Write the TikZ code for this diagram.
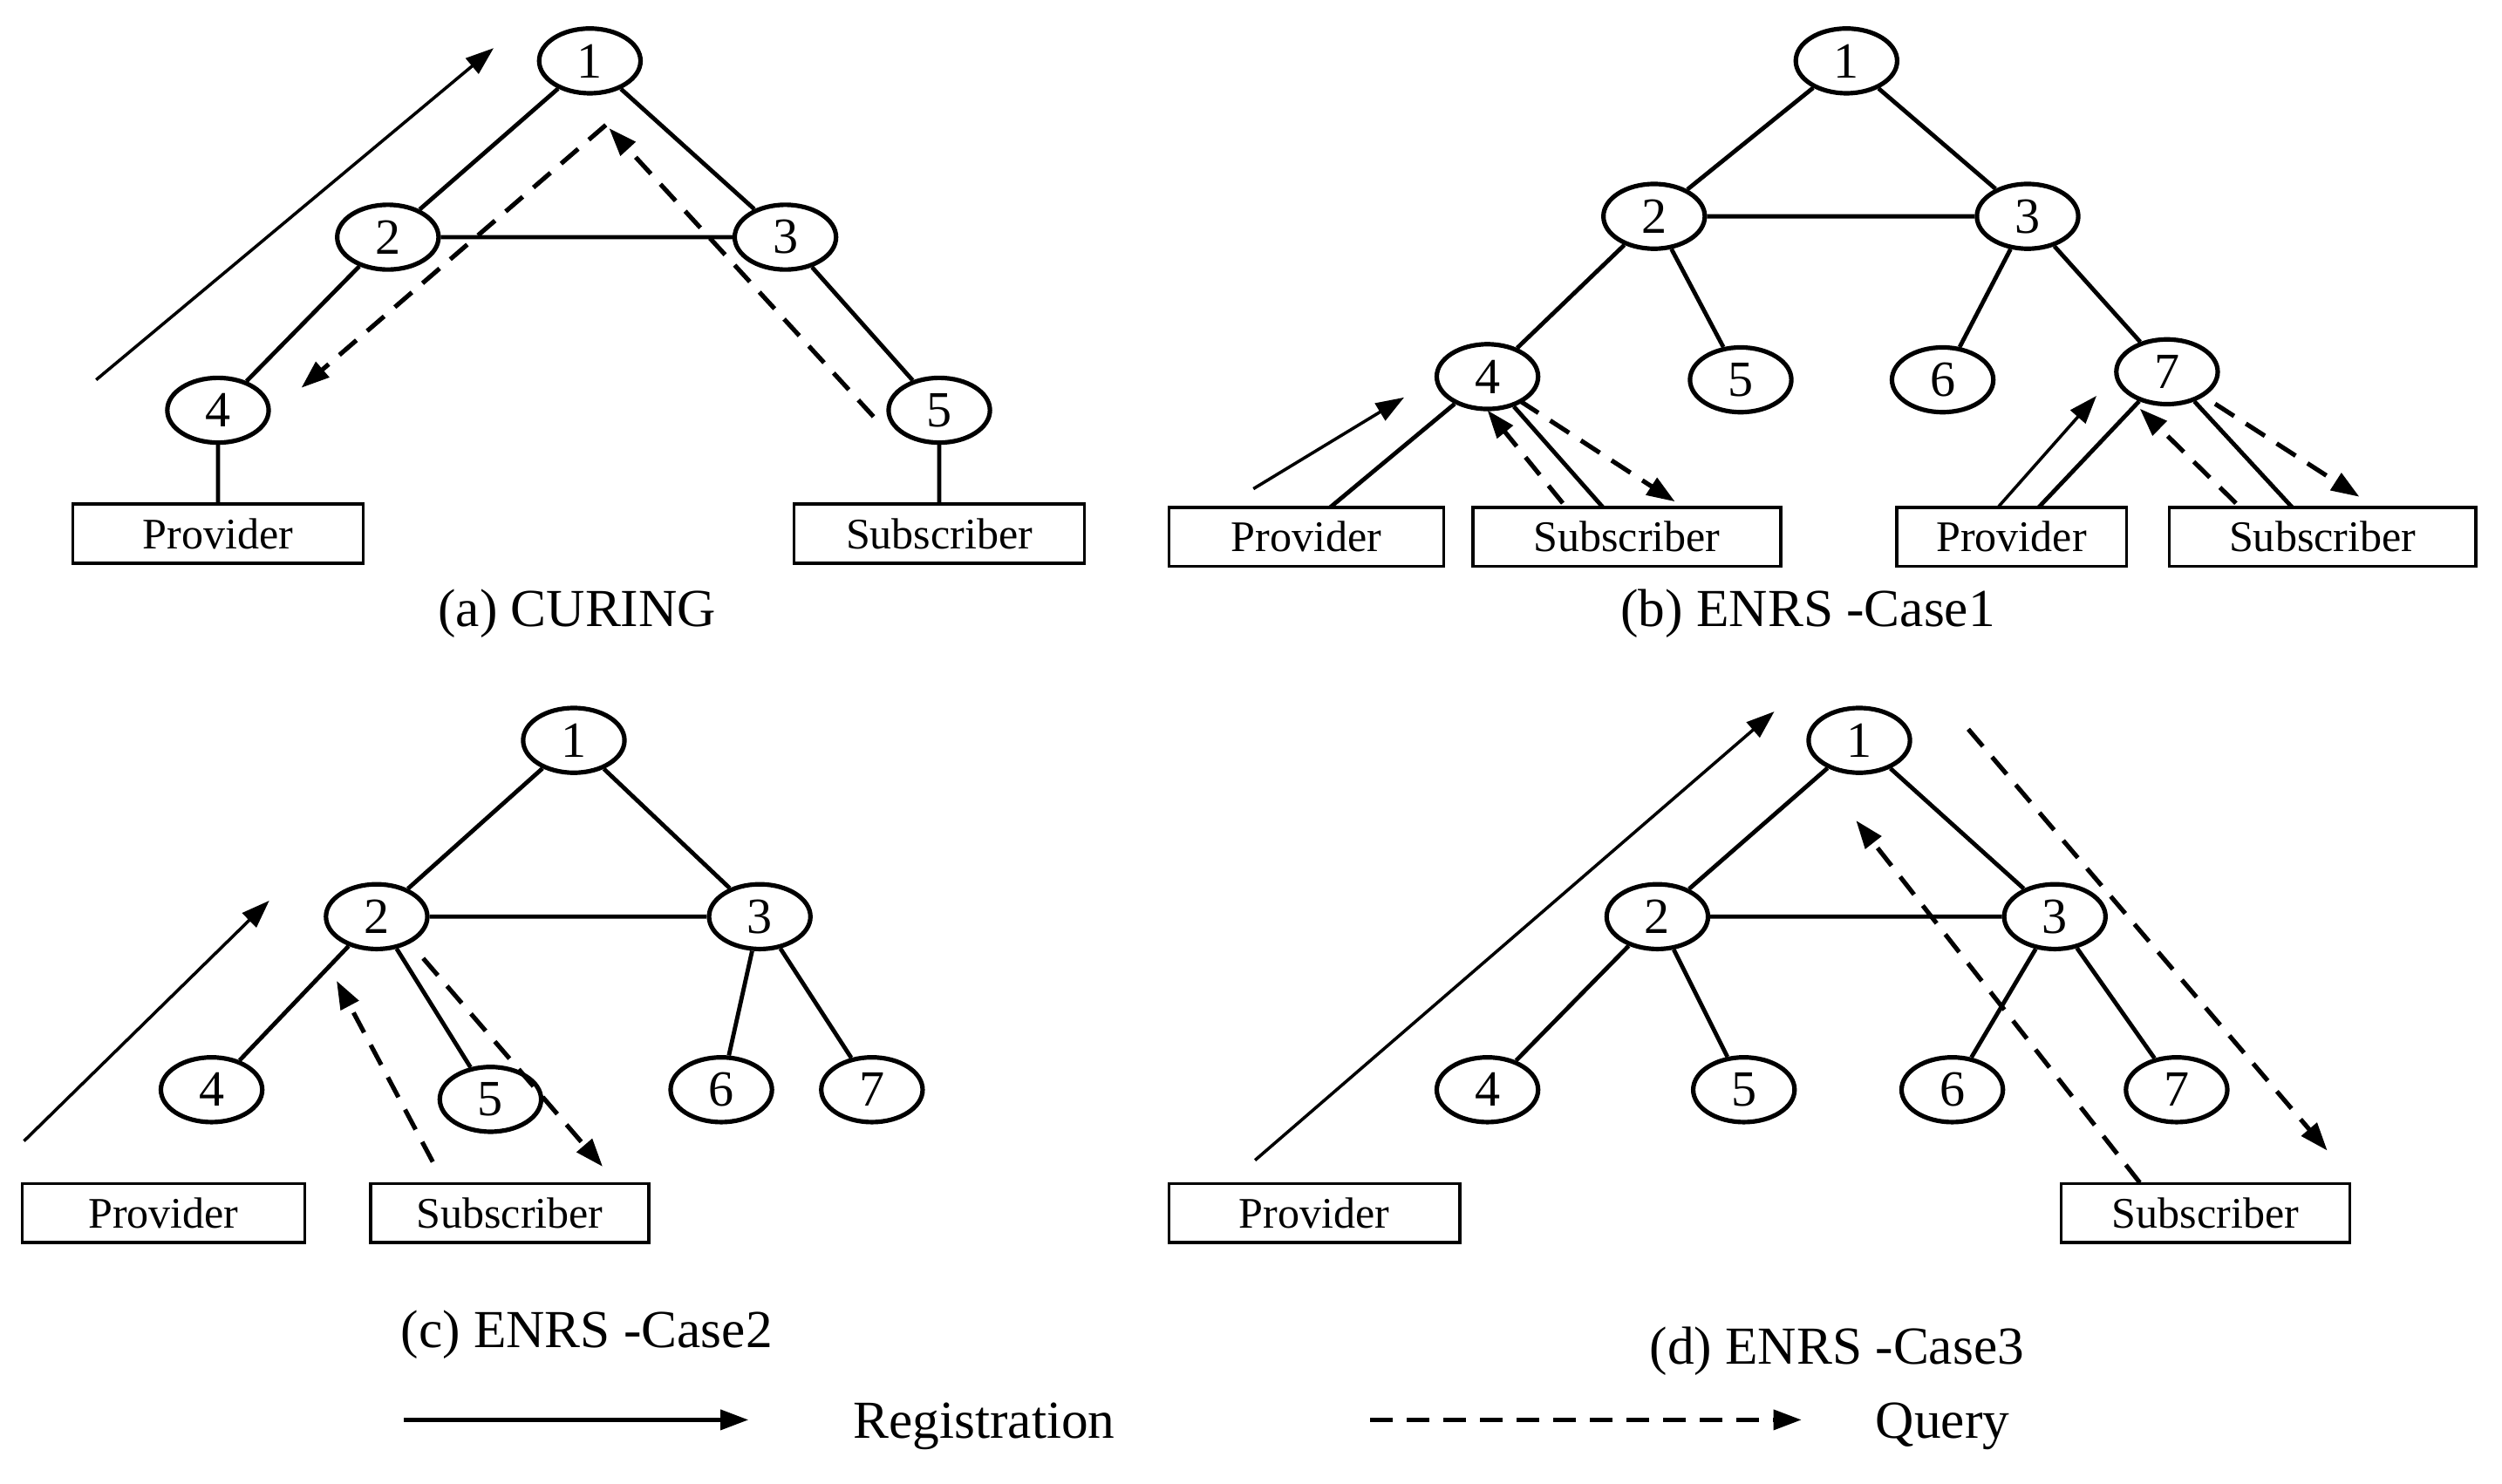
\documentclass[tikz,border=0pt]{standalone}
\usepackage{fontspec}
\setmainfont{Liberation Serif}
\usetikzlibrary{shapes.geometric,arrows.meta}
\begin{document}
\begin{tikzpicture}[x=0.02cm,y=-0.02cm,
  nd/.style={ellipse,draw,line width=1.6pt,minimum width=36pt,minimum height=23pt,inner sep=0pt,font=\fontsize{18}{18}\selectfont,fill=white},
  bx/.style={draw,line width=1.1pt,minimum height=21pt,inner sep=0pt,font=\fontsize{15.5}{16}\selectfont},
  ed/.style={line width=1.5pt},
  reg/.style={line width=1.1pt,-{Triangle[length=10pt,width=7pt]}},
  qry/.style={line width=1.6pt,dash pattern=on 8pt off 5pt,-{Triangle[length=10pt,width=7pt]}},
  captxt/.style={font=\fontsize{19}{20}\selectfont}]
\useasboundingbox (0,0) rectangle (1561,926);
% (a)
\node[nd] (a1) at (368,38) {1};
\node[nd] (a2) at (242,148) {2};
\node[nd] (a3) at (490,148) {3};
\node[nd] (a4) at (136,256) {4};
\node[nd] (a5) at (586,256) {5};
\node[bx,minimum width=182*0.567pt] (aP) at (136,333) {Provider};
\node[bx,minimum width=182*0.567pt] (aS) at (586,333) {Subscriber};
\node[captxt] (ac) at (360,383) {(a) CURING};
\draw[ed] (a1)--(a2) (a1)--(a3) (a2)--(a3) (a2)--(a4) (a3)--(a5) (a4)--(aP) (a5)--(aS);
\coordinate (ar1) at (60,237); \coordinate (ar2) at (308,30);
\draw[reg] (ar1)--(ar2);
\coordinate (aq1) at (378,78); \coordinate (aq2) at (188,242);
\draw[qry] (aq1)--(aq2);
\coordinate (aq3) at (545,260); \coordinate (aq4) at (380,80);
\draw[qry] (aq3)--(aq4);
% (b)
\node[nd] (b1) at (1152,38) {1};
\node[nd] (b2) at (1032,135) {2};
\node[nd] (b3) at (1265,135) {3};
\node[nd] (b4) at (928,235) {4};
\node[nd] (b5) at (1086,237) {5};
\node[nd] (b6) at (1212,237) {6};
\node[nd] (b7) at (1352,232) {7};
\node[bx,minimum width=172*0.567pt] (bP) at (815,335) {Provider};
\node[bx,minimum width=193*0.567pt] (bS) at (1015,335) {Subscriber};
\node[bx,minimum width=144*0.567pt] (bP2) at (1255,335) {Provider};
\node[bx,minimum width=192*0.567pt] (bS2) at (1449,335) {Subscriber};
\node[captxt] (bc) at (1128,383) {(b) ENRS -Case1};
\draw[ed] (b1)--(b2) (b1)--(b3) (b2)--(b3) (b2)--(b4) (b2)--(b5) (b3)--(b6) (b3)--(b7);
\draw[ed] (b4)--(830,316.5) (b4)--(1000,316.5) (b7)--(1272,316.5) (b7)--(1430,316.5);
\coordinate (br1) at (782,305); \coordinate (br2) at (876,248);
\draw[reg] (br1)--(br2);
\coordinate (bq1) at (975,314); \coordinate (bq2) at (928,256);
\draw[qry] (bq1)--(bq2);
\coordinate (bq3) at (948,250); \coordinate (bq4) at (1045,313);
\draw[qry] (bq3)--(bq4);
\coordinate (br3) at (1247,316); \coordinate (br4) at (1308,247);
\draw[reg] (br3)--(br4);
\coordinate (bq5) at (1395,314); \coordinate (bq6) at (1335,255);
\draw[qry] (bq5)--(bq6);
\coordinate (bq7) at (1382,252); \coordinate (bq8) at (1472,310);
\draw[qry] (bq7)--(bq8);
% (c)
\node[nd] (c1) at (358,462) {1};
\node[nd] (c2) at (235,572) {2};
\node[nd] (c3) at (474,572) {3};
\node[nd] (c4) at (132,680) {4};
\node[nd] (c5) at (306,686) {5};
\node[nd] (c6) at (450,680) {6};
\node[nd] (c7) at (544,680) {7};
\node[bx,minimum width=177*0.567pt] (cP) at (102,757) {Provider};
\node[bx,minimum width=174*0.567pt] (cS) at (318,757) {Subscriber};
\node[captxt] (cc) at (366,833) {(c) ENRS -Case2};
\draw[ed] (c1)--(c2) (c1)--(c3) (c2)--(c3) (c2)--(c4) (c2)--(c5) (c3)--(c6) (c3)--(c7);
\coordinate (cr1) at (15,712); \coordinate (cr2) at (168,562);
\draw[reg] (cr1)--(cr2);
\coordinate (cq1) at (270,725); \coordinate (cq2) at (210,612);
\draw[qry] (cq1)--(cq2);
\coordinate (cq3) at (264,598); \coordinate (cq4) at (376,728);
\draw[qry] (cq3)--(cq4);
% (d)
\node[nd] (d1) at (1160,462) {1};
\node[nd] (d2) at (1034,572) {2};
\node[nd] (d3) at (1282,572) {3};
\node[nd] (d4) at (928,680) {4};
\node[nd] (d5) at (1088,680) {5};
\node[nd] (d6) at (1218,680) {6};
\node[nd] (d7) at (1358,680) {7};
\node[bx,minimum width=182*0.567pt] (dP) at (820,757) {Provider};
\node[bx,minimum width=181*0.567pt] (dS) at (1376,757) {Subscriber};
\node[captxt] (dc) at (1146,843) {(d) ENRS -Case3};
\draw[ed] (d1)--(d2) (d1)--(d3) (d2)--(d3) (d2)--(d4) (d2)--(d5) (d3)--(d6) (d3)--(d7);
\coordinate (dr1) at (783,724); \coordinate (dr2) at (1107,444);
\draw[reg] (dr1)--(dr2);
\coordinate (dq1) at (1335,738); \coordinate (dq2) at (1158,512);
\draw[qry] (dq1)--(dq2);
\coordinate (dq3) at (1228,455); \coordinate (dq4) at (1452,718);
\draw[qry] (dq3)--(dq4);
% legend
\coordinate (l1) at (252,886); \coordinate (l2) at (467,886);
\draw[reg,line width=1.6pt] (l1)--(l2);
\node[captxt] (lr) at (614,890) {Registration};
\coordinate (l3) at (855,886); \coordinate (l4) at (1124,886);
\draw[qry] (l3)--(l4);
\node[captxt] (lq) at (1212,890) {Query};
\end{tikzpicture}
\end{document}
